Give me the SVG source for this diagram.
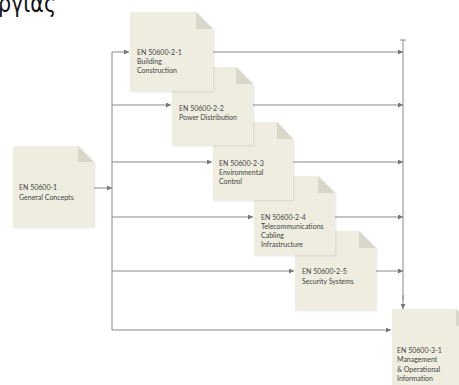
<svg xmlns="http://www.w3.org/2000/svg" width="459" height="385" viewBox="0 0 459 385">
<defs>
<marker id="arr" viewBox="0 0 6 6" refX="6" refY="3" markerWidth="5" markerHeight="5" orient="auto" markerUnits="userSpaceOnUse">
<path d="M0,0 L6,3 L0,6 z" fill="#777"/>
</marker>
<filter id="sh" x="-10%" y="-10%" width="130%" height="130%">
<feDropShadow dx="1" dy="1" stdDeviation="1" flood-color="#000" flood-opacity="0.10"/>
</filter>
</defs>
<style>
.doc{fill:#EEEDE0;filter:url(#sh)}
.fold{fill:#D9D7CA}
.t{font-family:Lato,"Noto Sans",sans-serif;font-size:7px;fill:#444}
.c{stroke:#8a8a8a;stroke-width:1;fill:none}
.ca{stroke:#8a8a8a;stroke-width:1;fill:none;marker-end:url(#arr)}
</style>
<rect width="459" height="385" fill="#fff"/>
<text x="-2" y="12" font-family="'DejaVu Sans',sans-serif" font-size="24" fill="#111" textLength="58" lengthAdjust="spacingAndGlyphs">ργίας</text>

<g id="connectors">
<path class="c" d="M112,52 V330"/>
<path class="ca" d="M94,188 H112"/>
<path class="ca" d="M112,52 H129"/>
<path class="ca" d="M112,105 H171"/>
<path class="ca" d="M112,162 H212"/>
<path class="ca" d="M112,217 H253"/>
<path class="ca" d="M112,271 H294"/>
<path class="ca" d="M112,330 H391"/>
<path class="c" d="M403,40 V300"/>
<path class="c" d="M400,40 H406"/>
<path class="ca" d="M213,52 H403"/>
<path class="ca" d="M253,105 H403"/>
<path class="ca" d="M293,162 H403"/>
<path class="ca" d="M335,217 H403"/>
<path class="ca" d="M376,271 H403"/>
<path class="ca" d="M403,295 V309"/>
</g>

<g id="n31">
<path class="doc" d="M392,309 H456 L473,326 V392 H392 Z"/>
<path class="fold" d="M456,309 L473,326 H456 Z"/>
<text class="t" x="397" y="353">EN 50600-3-1</text>
<text class="t" x="397" y="362">Management</text>
<text class="t" x="397" y="372">&amp; Operational</text>
<text class="t" x="397" y="381">Information</text>
</g>

<g id="n25">
<path class="doc" d="M295,231 H359 L376,248 V310 H295 Z"/>
<path class="fold" d="M359,231 L376,248 H359 Z"/>
<text class="t" x="302" y="274">EN 50600-2-5</text>
<text class="t" x="302" y="284">Security Systems</text>
</g>

<g id="n24">
<path class="doc" d="M254,176 H318 L335,193 V255 H254 Z"/>
<path class="fold" d="M318,176 L335,193 H318 Z"/>
<text class="t" x="261" y="220">EN 50600-2-4</text>
<text class="t" x="261" y="229">Telecommunications</text>
<text class="t" x="261" y="238">Cabling</text>
<text class="t" x="261" y="247">Infrastructure</text>
</g>

<g id="n23">
<path class="doc" d="M213,122 H277 L293,139 V200 H213 Z"/>
<path class="fold" d="M277,122 L293,139 H277 Z"/>
<text class="t" x="219" y="166">EN 50600-2-3</text>
<text class="t" x="219" y="175">Environmental</text>
<text class="t" x="219" y="184">Control</text>
</g>

<g id="n22">
<path class="doc" d="M172,67 H236 L253,84 V145 H172 Z"/>
<path class="fold" d="M236,67 L253,84 H236 Z"/>
<text class="t" x="179" y="111">EN 50600-2-2</text>
<text class="t" x="179" y="120">Power Distribution</text>
</g>

<g id="n21">
<path class="doc" d="M130,12 H196 L213,29 V91 H130 Z"/>
<path class="fold" d="M196,12 L213,29 H196 Z"/>
<text class="t" x="137" y="55">EN 50600-2-1</text>
<text class="t" x="137" y="64">Building</text>
<text class="t" x="137" y="73">Construction</text>
</g>

<g id="n1">
<path class="doc" d="M13,146 H78 L94,162 V227 H13 Z"/>
<path class="fold" d="M78,146 L94,162 H78 Z"/>
<text class="t" x="19" y="190">EN 50600-1</text>
<text class="t" x="19" y="200">General Concepts</text>
</g>
</svg>
